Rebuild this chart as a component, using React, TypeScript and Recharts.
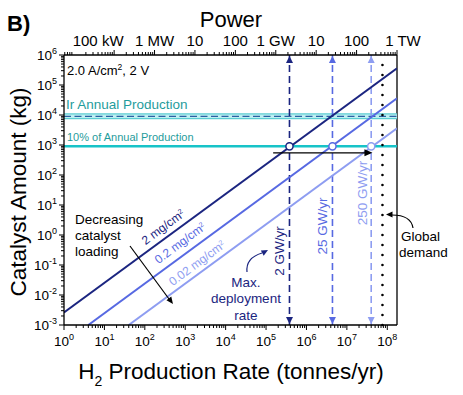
import React from "react";
import { ComposedChart, Line, XAxis, YAxis, ReferenceLine, ReferenceDot } from "recharts";

const FONT = "'Liberation Sans', Arial, sans-serif";

const NAVY = "#1b2580";
const MID = "#5769e2";
const LIGHT = "#8e9df1";
const TEAL_TXT = "#1f9c9c";

const X_MIN = 1;
const X_MAX = 1.74e8;
const Y_MIN = 1e-3;
const Y_MAX = 1e6;

// bottom axis: H2 production rate (t/yr)
const X_MAJOR = [1, 10, 100, 1e3, 1e4, 1e5, 1e6, 1e7, 1e8];
const X_EXP = ["0", "1", "2", "3", "4", "5", "6", "7", "8"];
// left axis: catalyst (kg)
const Y_MAJOR = [1e-3, 1e-2, 1e-1, 1, 10, 100, 1e3, 1e4, 1e5, 1e6];
const Y_EXP = ["-3", "-2", "-1", "0", "1", "2", "3", "4", "5", "6"];
// top axis: electrolyser power
const POWER_TICKS = [1.74e1, 1.74e2, 1.74e3, 1.74e4, 1.74e5, 1.74e6, 1.74e7, 1.74e8];
const POWER_LABELS = ["100 kW", "1 MW", "10", "100", "1 GW", "10", "100", "1 TW"];

// catalyst loading lines
const LOAD_2 = [{ x: 1, y: 2.6e-3 }, { x: 1.74e8, y: 3.6e5 }];
const LOAD_02 = [{ x: 4, y: 1e-3 }, { x: 1.74e8, y: 3.6e4 }];
const LOAD_002 = [{ x: 40, y: 1e-3 }, { x: 1.74e8, y: 3.6e3 }];

const IR_ANNUAL = 9000;
const IR_TENTH = 900;

// max deployment rates
const DEPLOY_X = [3.8e5, 4.4e6, 4.0e7];
const DEPLOY_COLORS = [NAVY, MID, LIGHT];
const GLOBAL_DEMAND = 7.6e7;
const ARROW_Y = 550;
const ARROW_FROM = 1.5e5;
const ARROW_TO = 4.3e7;

function minors(start: number) {
  const out: number[] = [];
  for (let d = -1; d <= 8; d++) {
    for (let k = 2; k <= 9; k++) {
      const v = start * k * Math.pow(10, d);
      if (v > X_MIN && v < X_MAX) out.push(v);
    }
  }
  return out;
}

function yMinors() {
  const out: number[] = [];
  for (let d = -3; d < 6; d++) for (let k = 2; k <= 9; k++) out.push(k * Math.pow(10, d));
  return out;
}

const near = (a: number, b: number) => Math.abs(Math.log10(a) - Math.log10(b)) < 1e-6;

function BottomTick({ x, y, payload }: any) {
  const i = X_MAJOR.findIndex((m) => near(m, payload.value));
  const major = i >= 0;
  return (
    <g>
      <line x1={x} x2={x} y1={y} y2={y + (major ? 5 : 3)} stroke="#000" strokeWidth={1} />
      {major && (
        <text x={x} y={y + 21} textAnchor="middle" fontSize={13.5} fontFamily={FONT} fill="#000">
          10<tspan dy={-6} fontSize={9}>{X_EXP[i]}</tspan>
        </text>
      )}
    </g>
  );
}

function LeftTick({ x, y, payload }: any) {
  const i = Y_MAJOR.findIndex((m) => near(m, payload.value));
  const major = i >= 0;
  return (
    <g>
      <line x1={x} x2={x - (major ? 5 : 3)} y1={y} y2={y} stroke="#000" strokeWidth={1} />
      {major && (
        <text x={x - 7} y={y + 5} textAnchor="end" fontSize={13.5} fontFamily={FONT} fill="#000">
          10<tspan dy={-6} fontSize={9}>{Y_EXP[i]}</tspan>
        </text>
      )}
    </g>
  );
}

function TopTick({ x, y, payload }: any) {
  const i = POWER_TICKS.findIndex((m) => near(m, payload.value));
  const major = i >= 0;
  const dx = i === 0 ? -16 : i === POWER_TICKS.length - 1 ? 6 : 0;
  return (
    <g>
      <line x1={x} x2={x} y1={y} y2={y - (major ? 5 : 3)} stroke="#000" strokeWidth={1} />
      {major && (
        <text x={x + dx} y={y - 9} textAnchor="middle" fontSize={15} fontFamily={FONT} fill="#000">
          {POWER_LABELS[i]}
        </text>
      )}
    </g>
  );
}

const upTri = (color: string) => (p: any) => (
  <polygon points={`${p.cx},${p.cy + 1} ${p.cx - 3.5},${p.cy + 8} ${p.cx + 3.5},${p.cy + 8}`} fill={color} />
);
const downTri = (color: string) => (p: any) => (
  <polygon points={`${p.cx},${p.cy - 1} ${p.cx - 3.5},${p.cy - 8} ${p.cx + 3.5},${p.cy - 8}`} fill={color} />
);
const rightTri = (p: any) => (
  <polygon points={`${p.cx},${p.cy} ${p.cx - 8},${p.cy - 3.5} ${p.cx - 8},${p.cy + 3.5}`} fill="#000" />
);

function head(tx: number, ty: number, deg: number, len = 7, half = 3) {
  const a = (deg * Math.PI) / 180;
  const bx = tx - len * Math.cos(a);
  const by = ty - len * Math.sin(a);
  const nx = -Math.sin(a) * half;
  const ny = Math.cos(a) * half;
  return `${tx},${ty} ${bx + nx},${by + ny} ${bx - nx},${by - ny}`;
}

function Overlay() {
  const t = { fontFamily: FONT };
  return (
    <svg width={463} height={395} style={{ position: "absolute", left: 0, top: 0, pointerEvents: "none" }}>
      <text x={7} y={31} fontSize={22} fontWeight="bold" {...t}>B)</text>
      <text x={231} y={27} fontSize={22} textAnchor="middle" {...t}>Power</text>
      <text transform="translate(26,192) rotate(-90)" fontSize={22.5} textAnchor="middle" {...t}>
        Catalyst Amount (kg)
      </text>
      <text x={231} y={379} fontSize={22.5} textAnchor="middle" {...t}>
        H<tspan dy={7} fontSize={14}>2</tspan><tspan dy={-7}> Production Rate (tonnes/yr)</tspan>
      </text>

      <text x={67} y={75} fontSize={13} {...t}>
        2.0 A/cm<tspan dy={-5} fontSize={8.5}>2</tspan><tspan dy={5}>, 2 V</tspan>
      </text>
      <text x={66} y={109} fontSize={13.5} fill={TEAL_TXT} {...t}>Ir Annual Production</text>
      <text x={67} y={141} fontSize={11} fill={TEAL_TXT} {...t}>10% of Annual Production</text>

      <text fontSize={13.5} {...t}>
        <tspan x={75} y={224}>Decreasing</tspan>
        <tspan x={75} y={240}>catalyst</tspan>
        <tspan x={75} y={256}>loading</tspan>
      </text>
      <line x1={130} y1={246} x2={169} y2={299} stroke="#000" strokeWidth={1.2} />
      <polygon points={head(173, 304, 53.6)} fill="#000" />

      <text transform="translate(163,227) rotate(-36.6)" fontSize={12} fill={NAVY} textAnchor="middle" dy="0.35em" {...t}>
        2 mg/cm<tspan dy={-4} fontSize={7}>2</tspan>
      </text>
      <text transform="translate(180,243) rotate(-36.6)" fontSize={12} fill={MID} textAnchor="middle" dy="0.35em" {...t}>
        0.2 mg/cm<tspan dy={-4} fontSize={7}>2</tspan>
      </text>
      <text transform="translate(197,263) rotate(-36.6)" fontSize={12} fill={LIGHT} textAnchor="middle" dy="0.35em" {...t}>
        0.02 mg/cm<tspan dy={-4} fontSize={7}>2</tspan>
      </text>

      <text transform="translate(279,251) rotate(-90)" fontSize={13.5} fill={NAVY} textAnchor="middle" dy="0.35em" {...t}>2 GW/yr</text>
      <text transform="translate(322,226) rotate(-90)" fontSize={13.5} fill={MID} textAnchor="middle" dy="0.35em" {...t}>25 GW/yr</text>
      <text transform="translate(362,193) rotate(-90)" fontSize={13.5} fill={LIGHT} textAnchor="middle" dy="0.35em" {...t}>250 GW/yr</text>

      <text fontSize={13.5} fill={NAVY} textAnchor="middle" {...t}>
        <tspan x={246} y={287}>Max.</tspan>
        <tspan x={246} y={303}>deployment</tspan>
        <tspan x={246} y={320}>rate</tspan>
      </text>
      <path d="M247,272 C246,262 252,256 262,253" fill="none" stroke={NAVY} strokeWidth={1.2} />
      <polygon points={head(268, 250, -28, 6.5, 3)} fill={NAVY} />

      <text fontSize={13.5} {...t}>
        <tspan x={401} y={241}>Global</tspan>
        <tspan x={399} y={257}>demand</tspan>
      </text>
      <path d="M413,228 Q411,215 392,215" fill="none" stroke="#000" strokeWidth={1.2} />
      <polygon points={head(386, 214.5, 180, 6.5, 3)} fill="#000" />
    </svg>
  );
}

export default function App() {
  return (
    <div style={{ position: "absolute", left: 0, top: 0, width: 463, height: 395, background: "#fff" }}>
      <ComposedChart width={463} height={395} margin={{ top: 25, right: 66, bottom: 40, left: 14 }}>
        <XAxis
          dataKey="x" type="number" scale="log" domain={[X_MIN, X_MAX]} allowDataOverflow
          ticks={[...X_MAJOR, ...minors(1)]} interval={0} tick={<BottomTick />}
          tickLine={false} tickSize={0} tickMargin={0} height={30}
          axisLine={{ stroke: "#000", strokeWidth: 1.3 }}
        />
        <XAxis
          xAxisId="top" orientation="top" dataKey="x" type="number" scale="log" domain={[X_MIN, X_MAX]} allowDataOverflow
          ticks={[...POWER_TICKS, ...minors(1.74)]} interval={0} tick={<TopTick />}
          tickLine={false} tickSize={0} tickMargin={0} height={30}
          axisLine={{ stroke: "#000", strokeWidth: 1.3 }}
        />
        <YAxis
          type="number" scale="log" domain={[Y_MIN, Y_MAX]} allowDataOverflow
          ticks={[...Y_MAJOR, ...yMinors()]} interval={0} tick={<LeftTick />}
          tickLine={false} tickSize={0} tickMargin={0} width={50}
          axisLine={{ stroke: "#000", strokeWidth: 1.3 }}
        />

        <ReferenceLine x={X_MAX} stroke="#000" strokeWidth={1.3} />

        <ReferenceLine y={IR_ANNUAL} stroke="#5ccdd2" strokeWidth={6} />
        <ReferenceLine y={IR_ANNUAL} stroke="#bdeff1" strokeWidth={3.5} />
        <ReferenceLine y={IR_ANNUAL} stroke="#2b5fa5" strokeWidth={1.4} strokeDasharray="7 3.5" />
        <ReferenceLine y={IR_TENTH} stroke="#17c3c8" strokeWidth={2.5} />

        {DEPLOY_X.map((x, i) => (
          <ReferenceLine key={"d" + i} x={x} stroke={DEPLOY_COLORS[i]} strokeWidth={1.6} strokeDasharray="7 4" />
        ))}
        <ReferenceLine x={GLOBAL_DEMAND} stroke="#000" strokeWidth={2.6} strokeDasharray="0 10" strokeLinecap="round" />

        <Line data={LOAD_2} dataKey="y" stroke={NAVY} strokeWidth={2} dot={false} isAnimationActive={false} />
        <Line data={LOAD_02} dataKey="y" stroke={MID} strokeWidth={2} dot={false} isAnimationActive={false} />
        <Line data={LOAD_002} dataKey="y" stroke={LIGHT} strokeWidth={2} dot={false} isAnimationActive={false} />

        <ReferenceLine segment={[{ x: ARROW_FROM, y: ARROW_Y }, { x: ARROW_TO * 0.85, y: ARROW_Y }]} stroke="#000" strokeWidth={1.3} />
        <ReferenceDot x={ARROW_TO} y={ARROW_Y} r={0} shape={rightTri} />

        {DEPLOY_X.map((x, i) => (
          <ReferenceDot key={"u" + i} x={x} y={Y_MAX} r={0} shape={upTri(DEPLOY_COLORS[i])} />
        ))}
        {DEPLOY_X.map((x, i) => (
          <ReferenceDot key={"b" + i} x={x} y={Y_MIN} r={0} shape={downTri(DEPLOY_COLORS[i])} />
        ))}
        {DEPLOY_X.map((x, i) => (
          <ReferenceDot key={"c" + i} x={x} y={IR_TENTH} r={3.6} fill="#fff" stroke={DEPLOY_COLORS[i]} strokeWidth={1.5} />
        ))}
      </ComposedChart>
      <Overlay />
    </div>
  );
}
